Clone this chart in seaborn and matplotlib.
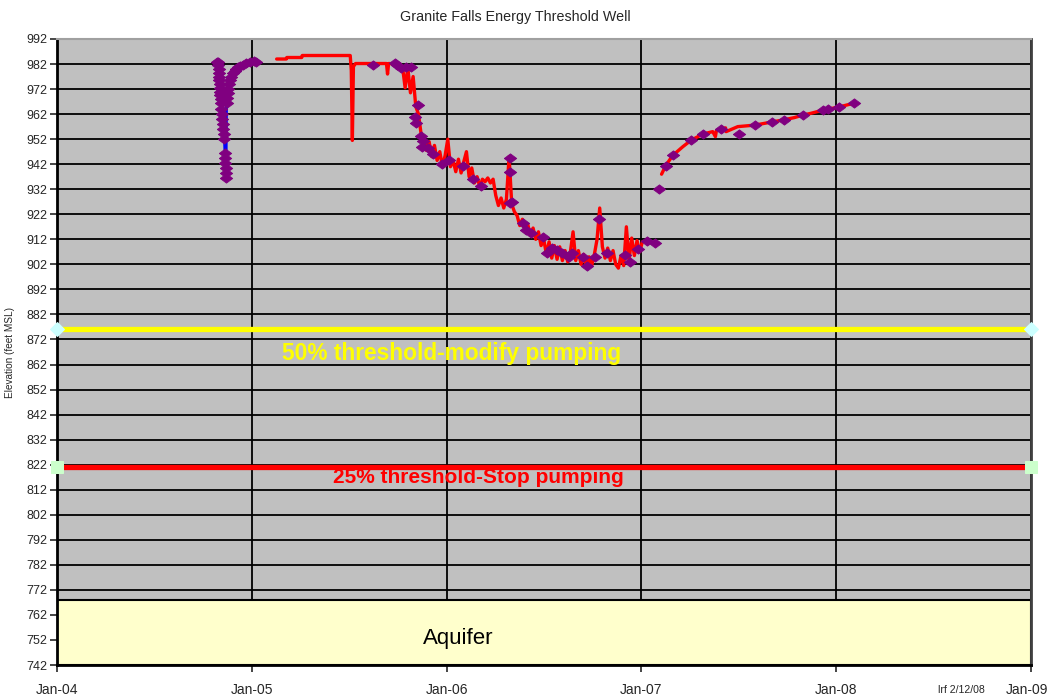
import pandas as pd
import numpy as np
import matplotlib
matplotlib.use("Agg")
import matplotlib.pyplot as plt
import seaborn as sns

sns.set_style("white")
plt.rcParams["font.family"] = ["Liberation Sans", "DejaVu Sans"]

# --- pumping test (manual readings joined by a blue line) ---
test_dates = [
    "2004-10-27 00:00", "2004-10-29 00:00", "2004-10-29 12:00", "2004-10-30 00:00",
    "2004-10-30 12:00", "2004-10-31 00:00", "2004-10-31 12:00", "2004-11-01 00:00",
    "2004-11-01 12:00", "2004-11-02 00:00", "2004-11-02 12:00", "2004-11-03 00:00",
    "2004-11-03 12:00", "2004-11-04 00:00", "2004-11-05 00:00", "2004-11-06 00:00",
    "2004-11-07 00:00", "2004-11-08 00:00", "2004-11-09 00:00", "2004-11-10 00:00",
    "2004-11-11 00:00", "2004-11-11 12:00", "2004-11-12 00:00", "2004-11-12 08:00",
    "2004-11-12 16:00", "2004-11-13 00:00", "2004-11-14 00:00", "2004-11-15 00:00",
    "2004-11-16 00:00", "2004-11-17 00:00", "2004-11-19 00:00", "2004-11-21 00:00",
    "2004-11-23 00:00", "2004-11-26 00:00", "2004-11-29 00:00", "2004-12-02 00:00",
    "2004-12-06 00:00", "2004-12-10 00:00", "2004-12-15 00:00", "2004-12-21 00:00",
    "2004-12-28 00:00", "2005-01-04 00:00", "2005-01-09 00:00",
]
test_levels = [
    983.0, 983.0, 981.5, 980.0, 978.5, 977.0, 975.5, 974.0,
    972.5, 971.0, 969.5, 968.0, 966.5, 964.0, 962.0, 960.0,
    958.0, 956.0, 954.0, 952.0, 946.5, 944.5, 942.5, 940.5,
    938.5, 936.5, 966.5, 968.5, 970.5, 972.0, 974.0, 975.5,
    977.0, 978.3, 979.2, 980.0, 980.7, 981.3, 981.8, 982.3,
    982.8, 983.2, 983.0,
]

# --- transducer record (red) ---
logger_early_dates = [
    "2005-02-16", "2005-03-06", "2005-03-07", "2005-04-04", "2005-04-05",
    "2005-07-04", "2005-07-06", "2005-07-08", "2005-07-10", "2005-07-14",
    "2005-09-10", "2005-09-12", "2005-09-14", "2005-09-30",
]
logger_early_levels = [
    984.0, 984.0, 984.6, 984.6, 985.4,
    985.4, 979.5, 951.5, 981.0, 982.2,
    982.2, 978.0, 982.2, 982.0,
]

# readings every 5 days, 2005-10-05 to 2007-01-03
logger_mid_start = "2005-10-05"
logger_mid_levels = [
    982.0, 981.0, 972.5, 980.5, 970.5, 977.0, 965.0, 962.0, 954.0, 952.5,
    947.5, 951.0, 945.0, 949.5, 943.5, 947.0, 941.0, 945.5, 952.0, 941.0,
    943.5, 939.0, 944.0, 938.5, 943.0, 947.0, 937.0, 940.5, 934.5, 937.0,
    933.0, 936.0, 935.0, 936.5, 934.5, 936.0, 929.5, 925.5, 928.5, 924.5,
    928.0, 945.0, 926.0, 923.0, 921.5, 917.5, 920.0, 915.0, 918.0, 913.5,
    916.5, 912.0, 915.0, 909.5, 912.0, 906.0, 911.0, 904.5, 909.5, 904.0,
    909.0, 903.5, 907.5, 903.0, 907.0, 915.0, 903.5, 907.5, 902.0, 906.0,
    900.5, 905.0, 901.5, 906.0, 912.0, 924.5, 909.0, 904.5, 908.5, 903.5,
    907.5, 902.0, 900.5, 905.5, 901.5, 917.0, 903.5, 912.5, 905.5, 911.5,
    907.0, 911.0,
]

logger_late_dates = [
    "2007-02-08", "2007-02-16", "2007-03-01", "2007-03-20", "2007-04-04",
    "2007-04-26", "2007-05-15", "2007-05-20", "2007-05-22", "2007-05-30",
    "2007-06-08", "2007-06-09", "2007-07-01", "2007-08-02", "2007-09-04",
    "2007-09-25", "2007-10-15", "2007-10-31", "2007-11-15", "2007-12-06",
    "2008-01-06", "2008-02-01",
]
logger_late_levels = [
    938.0, 941.5, 945.5, 949.0, 951.5,
    954.0, 955.0, 953.0, 955.5, 956.0,
    956.5, 955.0, 957.0, 957.6, 958.9,
    959.7, 960.6, 961.6, 962.3, 963.5,
    964.8, 966.2,
]

# --- manual tape readings (purple diamonds) ---
manual_dates = [
    "2005-08-15", "2005-09-26", "2005-09-30", "2005-10-08", "2005-10-17",
    "2005-10-26", "2005-11-02", "2005-11-04", "2005-11-08", "2005-11-13",
    "2005-11-16", "2005-11-18", "2005-11-26", "2005-12-07", "2005-12-24",
    "2006-01-06", "2006-01-31", "2006-02-19", "2006-03-06", "2006-04-29",
    "2006-04-29", "2006-04-30", "2006-05-04", "2006-05-25", "2006-05-29",
    "2006-06-09", "2006-06-30", "2006-07-08", "2006-07-17", "2006-07-27",
    "2006-08-05", "2006-08-18", "2006-08-24", "2006-09-13", "2006-09-21",
    "2006-10-07", "2006-10-13", "2006-10-28", "2006-12-01", "2006-12-10",
    "2006-12-25", "2007-01-11", "2007-01-26", "2007-02-03", "2007-02-16",
    "2007-03-01", "2007-04-04", "2007-04-26", "2007-05-30", "2007-07-03",
    "2007-08-02", "2007-09-04", "2007-09-25", "2007-10-31", "2007-12-07",
    "2007-12-17", "2008-01-06", "2008-02-04",
]
manual_levels = [
    981.6, 982.4, 981.5, 980.5, 981.0,
    981.0, 960.8, 958.4, 965.6, 953.3,
    948.9, 951.3, 948.5, 946.0, 942.0,
    943.7, 941.3, 936.0, 933.3, 944.5,
    939.0, 926.5, 927.0, 918.5, 915.7,
    914.5, 913.0, 906.5, 908.5, 907.7,
    906.5, 905.0, 906.5, 905.0, 901.3,
    905.0, 920.0, 906.5, 905.7, 903.0,
    908.0, 911.3, 910.5, 932.0, 941.3,
    945.7, 951.7, 954.0, 956.0, 954.0,
    957.6, 958.9, 959.7, 961.6, 963.6,
    964.0, 964.8, 966.4,
]

# --- thresholds, aquifer, axis ---
threshold_50 = 876.0
threshold_25 = 821.0
aquifer_top = 768.0
y_min, y_max = 742, 992
year_ticks = ["2004-01-01", "2005-01-01", "2006-01-01", "2007-01-01", "2008-01-01", "2009-01-01"]
year_labels = ["Jan-04", "Jan-05", "Jan-06", "Jan-07", "Jan-08", "Jan-09"]

# squashed diamond like the Excel marker
DIAMOND = [(-1, 0), (0, 0.75), (1, 0), (0, -0.75), (-1, 0)]


def main():
    fig = plt.figure(figsize=(10.5, 6.96), dpi=100)
    ax = fig.add_axes([0.0543, 0.0445, 0.9276, 0.8995])
    ax.set_facecolor("#C0C0C0")

    ticks = pd.to_datetime(year_ticks)
    x0, x1 = ticks[0], ticks[-1]

    # aquifer band
    ax.axhspan(y_min, aquifer_top, facecolor="#FFFFCC", edgecolor="black",
               linewidth=1.5, zorder=2)

    # threshold lines with end markers
    thr50 = pd.DataFrame({"date": [x0, x1], "level": [threshold_50] * 2})
    thr25 = pd.DataFrame({"date": [x0, x1], "level": [threshold_25] * 2})
    sns.lineplot(data=thr50, x="date", y="level", ax=ax, color="#FFFF00",
                 linewidth=3.8, marker="D", markersize=7, markerfacecolor="#CCFFFF",
                 markeredgecolor="#CCFFFF", clip_on=False, zorder=4)
    sns.lineplot(data=thr25, x="date", y="level", ax=ax, color="#FF0000",
                 linewidth=3.8, marker="s", markersize=8, markerfacecolor="#CCFFCC",
                 markeredgecolor="#CCFFCC", clip_on=False, zorder=4)

    # pumping test
    test_dt = pd.to_datetime(test_dates, format="%Y-%m-%d %H:%M")
    test = pd.DataFrame({"date": test_dt, "level": test_levels})
    sns.lineplot(data=test, x="date", y="level", ax=ax, color="#0000FF",
                 linewidth=2, estimator=None, sort=False, zorder=5)

    # transducer record
    logger_early = pd.DataFrame({"date": pd.to_datetime(logger_early_dates),
                                 "level": logger_early_levels})
    logger_mid = pd.DataFrame({
        "date": pd.date_range(logger_mid_start, periods=len(logger_mid_levels), freq="5D"),
        "level": logger_mid_levels})
    logger_late = pd.DataFrame({"date": pd.to_datetime(logger_late_dates),
                                "level": logger_late_levels})
    logger_a = pd.concat([logger_early, logger_mid], ignore_index=True)
    for seg in (logger_a, logger_late):
        sns.lineplot(data=seg, x="date", y="level", ax=ax, color="#FF0000",
                     linewidth=2.4, estimator=None, sort=False, zorder=6)

    # manual readings
    manual = pd.concat([
        pd.DataFrame({"date": pd.to_datetime(manual_dates), "level": manual_levels}),
        test,
    ], ignore_index=True)
    sns.scatterplot(data=manual, x="date", y="level", ax=ax, color="#800080",
                    marker=DIAMOND, s=80, edgecolor="#800080", linewidth=0.6, zorder=7)

    # axes
    ax.set_xlim(x0, x1)
    ax.set_ylim(y_min, y_max)
    ax.set_yticks(np.arange(y_min, y_max + 1, 10))
    ax.set_xticks(ticks)
    # last label is drawn separately, a touch left of its tick so it stays on the page
    ax.set_xticklabels(year_labels[:-1] + [""])
    ax.annotate(year_labels[-1], xy=(x1, 0), xycoords=("data", "axes fraction"),
                xytext=(-3, -13), textcoords="offset points", ha="center", va="top",
                fontsize=10, annotation_clip=False)
    ax.grid(True, color="black", linewidth=1.3)
    ax.set_axisbelow(True)
    ax.tick_params(axis="y", length=5, width=1.2, pad=2, labelsize=9,
                   direction="out", left=True)
    ax.tick_params(axis="x", length=5, width=1.2, pad=8, labelsize=10,
                   direction="out", bottom=True)
    ax.set_xlabel("")
    ax.set_ylabel("Elevation (feet MSL)", fontsize=7.2, labelpad=8)

    for side in ("left", "bottom"):
        ax.spines[side].set_color("black")
        ax.spines[side].set_linewidth(2)
    ax.spines["right"].set_color("#404040")
    ax.spines["right"].set_linewidth(2)
    ax.spines["top"].set_color("#A0A0A0")
    ax.spines["top"].set_linewidth(1.5)

    ax.text(0.4055, 0.4984, "50% threshold-modify pumping", transform=ax.transAxes,
            ha="center", va="center", color="#FFFF00", fontsize=16.4, fontweight="bold",
            zorder=8)
    ax.text(0.4322, 0.3003, "25% threshold-Stop pumping", transform=ax.transAxes,
            ha="center", va="center", color="#FF0000", fontsize=15, fontweight="bold",
            zorder=8)
    ax.text(0.4117, 0.0431, "Aquifer", transform=ax.transAxes,
            ha="center", va="center", color="black", fontsize=16, zorder=8)

    fig.text(515 / 1050, 1 - 17 / 696, "Granite Falls Energy Threshold Well",
             ha="center", va="center", fontsize=10.3)
    fig.text(961 / 1050, 1 - 690 / 696, "lrf 2/12/08", ha="center", va="center",
             fontsize=7.6)

    fig.savefig("out.png", dpi=100)
    plt.close(fig)


if __name__ == "__main__":
    main()
